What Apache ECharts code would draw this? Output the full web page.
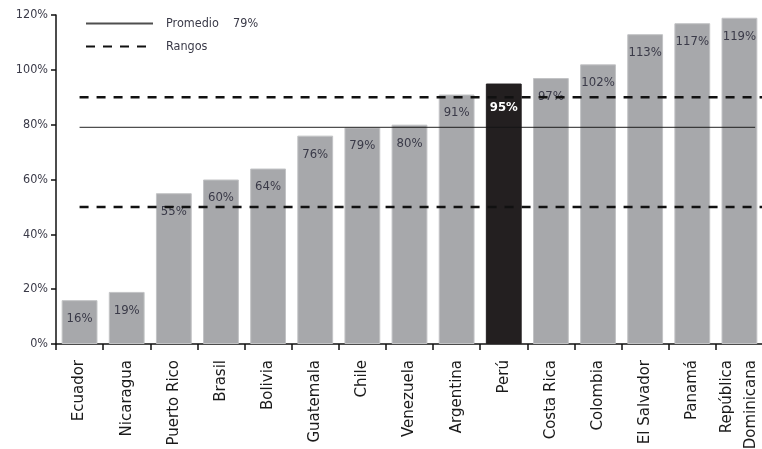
<!DOCTYPE html>
<html>
<head>
<meta charset="utf-8">
<script src="https://cdn.jsdelivr.net/npm/echarts@6/dist/echarts.min.js"></script>
<style>
  html, body { margin: 0; padding: 0; background: #fff; }
  #chart { width: 762px; height: 449px; }
</style>
</head>
<body>
<div id="chart"></div>
<script>
// Country names along the category axis
const categories = ['Ecuador', 'Nicaragua', 'Puerto Rico', 'Brasil', 'Bolivia', 'Guatemala', 'Chile',
  'Venezuela', 'Argentina', 'Perú', 'Costa Rica', 'Colombia', 'El Salvador', 'Panamá', 'República\nDominicana'];
// Percentage per country
const values = [16, 19, 55, 60, 64, 76, 79, 80, 91, 95, 97, 102, 113, 117, 119];
// Highlighted country
const highlighted = 'Perú';
// Reference levels
const promedio = 79;
const rangoInferior = 50;
const rangoSuperior = 90;
// Y-axis ticks
const yMin = 0, yMax = 120, yStep = 20;

const condensed = "'Liberation Sans Narrow', 'DejaVu Sans Condensed', 'Open Sans', sans-serif";
const lastIdx = categories.length - 1;

const dashedStyle = { stroke: '#111', lineWidth: 2.5, lineDash: [9, 8], fill: null };
const solidStyle = { stroke: 'rgba(20,20,20,0.75)', lineWidth: 1.3, fill: null };

// Horizontal level line: starts at the first country's centre; the average stops
// a third of a category past the last country, the ranges run to the plot edge.
function levelRenderer(style, toEdge) {
  return function (params, api) {
    const level = api.value(1);
    const start = api.coord([api.value(0), level]);
    const cs = params.coordSys;
    const endX = toEdge
      ? cs.x + cs.width
      : api.coord([lastIdx, level])[0] + api.size([1, 0])[0] / 3;
    return {
      type: 'line',
      shape: { x1: start[0], y1: start[1], x2: endX, y2: start[1] },
      style: style,
      silent: true
    };
  };
}

const chart = echarts.init(document.getElementById('chart'), null, { renderer: 'canvas' });

const barData = values.map((v, i) => {
  const isHi = categories[i] === highlighted;
  return {
    value: v,
    itemStyle: isHi ? { color: '#231f20', borderColor: '#231f20' } : undefined,
    label: isHi ? { color: '#ffffff', fontWeight: 'bold', distance: 18 } : undefined
  };
});

chart.setOption({
  animation: false,
  backgroundColor: '#ffffff',
  grid: { left: 56, right: -1, top: 15, bottom: 105, outerBoundsMode: 'none', containLabel: false },
  legend: {
    orient: 'vertical',
    left: 80,
    top: 12,
    itemWidth: 67,
    itemHeight: 14,
    itemGap: 10,
    selectedMode: false,
    itemStyle: { opacity: 0 },
    data: ['Promedio', 'Rangos'],
    formatter: name => name === 'Promedio' ? 'Promedio    ' + promedio + '%' : name,
    textStyle: { color: '#3a3a48', fontSize: 12.5, fontFamily: condensed, padding: [0, 0, 0, 8] }
  },
  xAxis: {
    type: 'category',
    data: categories,
    boundaryGap: true,
    axisLine: { lineStyle: { color: '#111', width: 1.5 } },
    axisTick: { show: true, length: 6, lineStyle: { color: '#111', width: 1.5 } },
    axisLabel: {
      rotate: 90,
      interval: 0,
      margin: 16,
      color: '#1a1a1a',
      fontSize: 15,
      lineHeight: 24,
      fontFamily: "'DejaVu Sans', sans-serif"
    }
  },
  yAxis: {
    type: 'value',
    min: yMin,
    max: yMax,
    interval: yStep,
    splitLine: { show: false },
    axisLine: { show: true, lineStyle: { color: '#111', width: 1.5 } },
    axisTick: { show: true, length: 5, lineStyle: { color: '#111', width: 1.5 } },
    axisLabel: {
      formatter: '{value}%',
      color: '#3a3a48',
      fontSize: 12.5,
      margin: 8,
      fontFamily: condensed
    }
  },
  series: [
    {
      name: 'Valores',
      type: 'bar',
      data: barData,
      barWidth: '76%',
      itemStyle: { color: '#a7a8ab', borderColor: '#c2c3c5', borderWidth: 1 },
      label: {
        show: true,
        position: 'insideTop',
        distance: 12,
        formatter: '{c}%',
        color: '#3a3a48',
        fontSize: 13,
        fontFamily: condensed
      },
      z: 2
    },
    // legend entries
    {
      name: 'Promedio',
      type: 'line',
      data: [],
      symbol: 'none',
      lineStyle: { color: 'rgba(20,20,20,0.75)', width: 1.3, type: 'solid' },
      itemStyle: { color: '#222' }
    },
    {
      name: 'Rangos',
      type: 'line',
      data: [],
      symbol: 'none',
      lineStyle: { color: '#111', width: 2.5, type: [9, 8] },
      itemStyle: { color: '#111' }
    },
    // level lines
    {
      name: 'Nivel promedio',
      type: 'custom',
      renderItem: levelRenderer(solidStyle, false),
      data: [[0, promedio]],
      z: 3
    },
    {
      name: 'Niveles de rango',
      type: 'custom',
      renderItem: levelRenderer(dashedStyle, true),
      data: [[0, rangoSuperior], [0, rangoInferior]],
      z: 3
    }
  ]
});
</script>
</body>
</html>
